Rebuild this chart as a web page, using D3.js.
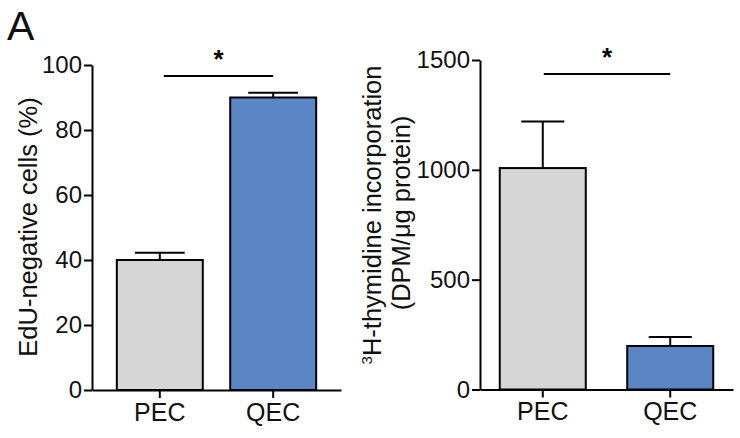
<!DOCTYPE html>
<html>
<head>
<meta charset="utf-8">
<script src="https://d3js.org/d3.v7.min.js"></script>
<style>
  body { margin: 0; background: #fff; }
  svg { font-family: "Liberation Sans", Arial, sans-serif; }
</style>
</head>
<body>
<script>
// data
var groups = ["PEC", "QEC"];
var barColors = ["#d6d6d6", "#5b86c5"];

var eduMean = [40, 90];
var eduSem = [2.2, 1.5];
var eduTicks = [0, 20, 40, 60, 80, 100];
var eduSig = 96.6;

var thyMean = [1008, 198];
var thySem = [212, 41];
var thyTicks = [0, 500, 1000, 1500];
var thySig = 1436;

var width = 740, height = 438;

var svg = d3.select("body").append("svg")
    .attr("width", width)
    .attr("height", height);

// panel letter
svg.append("text")
    .attr("x", 7)
    .attr("y", 40)
    .attr("font-size", 41)
    .attr("fill", "#111")
    .text("A");

function panel(opt) {
  var x = d3.scaleBand()
      .domain(groups)
      .range([opt.x0, opt.x1])
      .paddingInner(opt.padIn)
      .paddingOuter(opt.padOut);

  var y = d3.scaleLinear()
      .domain(opt.domain)
      .range([opt.y0, opt.y1]);

  var g = svg.append("g");

  // bars
  var data = groups.map(function(d, i) {
    return { key: d, mean: opt.mean[i], sem: opt.sem[i], color: barColors[i] };
  });

  g.selectAll("rect.bar")
      .data(data)
      .enter().append("rect")
      .attr("class", "bar")
      .attr("x", function(d) { return x(d.key); })
      .attr("width", x.bandwidth())
      .attr("y", function(d) { return y(d.mean); })
      .attr("height", function(d) { return y(0) - y(d.mean); })
      .attr("fill", function(d) { return d.color; })
      .attr("stroke", "#000")
      .attr("stroke-width", 2);

  // error bars (upper only)
  var cap = x.bandwidth() * opt.cap / 2;
  var eb = g.selectAll("g.err")
      .data(data)
      .enter().append("g")
      .attr("class", "err");
  eb.append("line")
      .attr("x1", function(d) { return x(d.key) + x.bandwidth() / 2; })
      .attr("x2", function(d) { return x(d.key) + x.bandwidth() / 2; })
      .attr("y1", function(d) { return y(d.mean); })
      .attr("y2", function(d) { return y(d.mean + d.sem); })
      .attr("stroke", "#000")
      .attr("stroke-width", 2);
  eb.append("line")
      .attr("x1", function(d) { return x(d.key) + x.bandwidth() / 2 - cap; })
      .attr("x2", function(d) { return x(d.key) + x.bandwidth() / 2 + cap; })
      .attr("y1", function(d) { return y(d.mean + d.sem); })
      .attr("y2", function(d) { return y(d.mean + d.sem); })
      .attr("stroke", "#000")
      .attr("stroke-width", 2);

  // y axis
  var yAxis = g.append("g")
      .attr("transform", "translate(" + opt.x0 + ",0)")
      .call(d3.axisLeft(y).tickValues(opt.ticks).tickFormat(d3.format("d"))
        .tickSize(8).tickPadding(2).tickSizeOuter(0));
  yAxis.select(".domain").attr("stroke-width", 2);
  yAxis.selectAll(".tick line").attr("stroke-width", 2);
  yAxis.selectAll(".tick text")
      .attr("font-size", 24)
      .attr("fill", "#111")
      .attr("font-family", "Liberation Sans, Arial, sans-serif");

  // x axis
  var xAxis = g.append("g")
      .attr("transform", "translate(0," + opt.y0 + ")")
      .call(d3.axisBottom(x).tickSize(8).tickPadding(5).tickSizeOuter(0));
  xAxis.select(".domain").attr("stroke-width", 2);
  xAxis.selectAll(".tick line").attr("stroke-width", 2);
  xAxis.selectAll(".tick text")
      .attr("font-size", 25)
      .attr("fill", "#111")
      .attr("font-family", "Liberation Sans, Arial, sans-serif");

  // significance line and star
  var sx1 = x(groups[0]) + x.bandwidth() / 2 + opt.sigPad;
  var sx2 = x(groups[1]) + x.bandwidth() / 2;
  g.append("line")
      .attr("x1", sx1).attr("x2", sx2)
      .attr("y1", y(opt.sig)).attr("y2", y(opt.sig))
      .attr("stroke", "#000")
      .attr("stroke-width", 2);
  g.append("text")
      .attr("x", (sx1 + sx2) / 2)
      .attr("y", y(opt.sig) - 8)
      .attr("text-anchor", "middle")
      .attr("font-size", 26)
      .attr("font-weight", "bold")
      .text("*");

  return g;
}

panel({
  x0: 92, x1: 341, y0: 390, y1: 65,
  padIn: 0.242, padOut: 0.219, cap: 0.58, sigPad: 4,
  domain: [0, 100], ticks: eduTicks,
  mean: eduMean, sem: eduSem, sig: eduSig
});

panel({
  x0: 480, x1: 733, y0: 389.5, y1: 60,
  padIn: 0.325, padOut: 0.155, cap: 0.5, sigPad: 1,
  domain: [0, 1500], ticks: thyTicks,
  mean: thyMean, sem: thySem, sig: thySig
});

// y axis titles
svg.append("text")
    .attr("transform", "translate(37,227) rotate(-90)")
    .attr("text-anchor", "middle")
    .attr("font-size", 25.5)
    .attr("fill", "#111")
    .text("EdU-negative cells (%)");

var t1 = svg.append("text")
    .attr("transform", "translate(381,215) rotate(-90)")
    .attr("text-anchor", "middle")
    .attr("font-size", 25.5)
    .attr("fill", "#111");
t1.append("tspan").attr("font-size", 15).attr("dy", -9).text("3");
t1.append("tspan").attr("dy", 9).text("H-thymidine incorporation");

svg.append("text")
    .attr("transform", "translate(410,213) rotate(-90)")
    .attr("text-anchor", "middle")
    .attr("font-size", 25.5)
    .attr("fill", "#111")
    .text("(DPM/\u03bcg protein)");
</script>
</body>
</html>
